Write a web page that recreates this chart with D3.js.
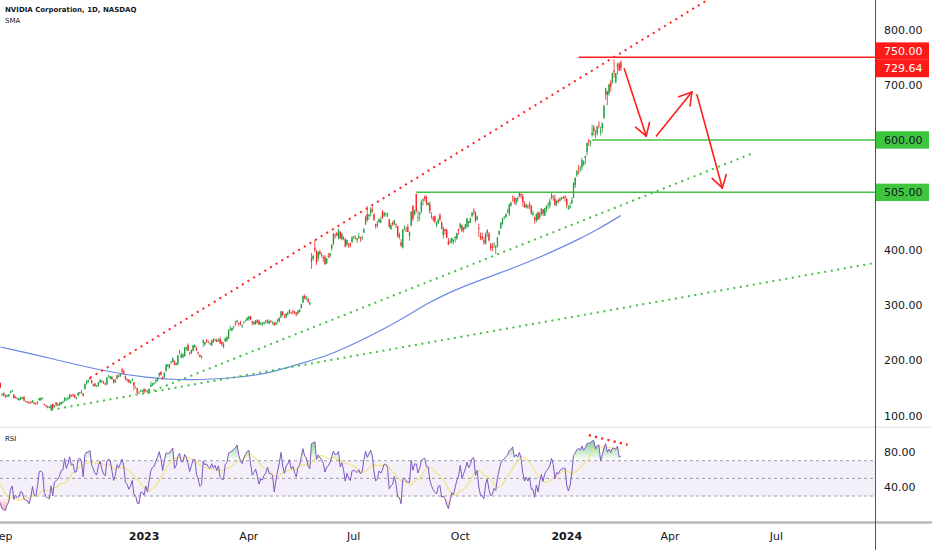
<!DOCTYPE html>
<html>
<head>
<meta charset="utf-8">
<script src="https://cdn.jsdelivr.net/npm/d3@7"></script>
<style>
  html, body { margin: 0; padding: 0; background: #fff; }
  svg { display: block; font-family: "DejaVu Sans", sans-serif; }
</style>
</head>
<body>
<svg id="chart" width="932" height="550"></svg>
<script>
// ---- data ----
const firstBarDate = '2022-07-18';
const calendarEnd = '2024-12-31';
const holidays = ['2022-09-05', '2022-11-24', '2022-12-26', '2023-01-02', '2023-01-16', '2023-02-20',
  '2023-04-07', '2023-05-29', '2023-06-19', '2023-07-04', '2023-09-04', '2023-11-23', '2023-12-25',
  '2024-01-01', '2024-01-15', '2024-02-19', '2024-03-29', '2024-05-27', '2024-06-19', '2024-07-04',
  '2024-09-02', '2024-11-28', '2024-12-25'];

// daily [open, high, low, close], one row per trading day from firstBarDate
const ohlc = [
  // 2022 Jul 18-29
  [164,167,159,160.6],[163,169,161,168.6],[169,178,168,177.2],[177,180,174,179.6],[178,179,172,173.2],
  [173,175,170,171.8],[170,171,164,165.2],[170,179,169,177.9],[178,181,174,179.3],[178,183,177,181.6],
  // Aug
  [179,188,178,184.4],[183,189,181,185.3],[187,191,186,189.6],[190,193,188,191.2],[187,191,186,190.3],
  [180,183,176,177.9],[176,177,170,171.0],[178,183,177,181.8],[184,187,179,179.5],[181,188,180,187.8],
  [186,191,185,190.2],[189,192,187,189.9],[187,188,182,183.5],[183,186,181,184.3],[181,182,176,177.2],
  [174,175,171,171.9],[172,174,170,172.4],[171,174,170,172.5],[174,180,173,179.1],[175,177,162,163.0],
  [160,163,158,159.6],[161,162,154,157.6],[159,160,150,150.9],
  // Sep
  [139,140,136,139.4],[141,142,135,136.5],[137,138,132,134.7],[135,138,133,137.1],[135,139,134,138.3],
  [141,145,140,143.9],[144,147,143,145.7],[138,139,131,131.7],[132,135,131,134.0],[132,133,129,130.6],
  [128,132,127,131.1],[129,134,128,133.4],[132,134,130,132.6],[134,135,126,127.0],[126,127,124,125.6],
  [125,126,122,125.2],[124,126,122,122.3],[125,126,121,124.1],[124,128,123,127.6],[124,125,120,122.2],
  [122,124,120,121.4],
  // Oct
  [123,126,120,124.9],[128,132,127,131.7],[128,133,127,132.0],[130,133,130,131.4],[121,122,119,120.8],
  [119,119,115,116.7],[115,118,113,115.9],[116,117,114,115.0],[111,120,108,119.6],[121,122,112,112.3],
  [116,119,115,118.9],[124,125,117,119.7],[118,123,117,120.5],[119,125,118,121.9],[121,125,119,124.7],
  [125,127,122,125.1],[126,133,126,132.6],[128,133,128,128.9],[130,134,128,131.8],[131,139,130,138.3],
  [137,138,134,135.0],
  // Nov
  [138,140,134,136.0],[137,139,132,132.6],[130,134,130,133.0],[137,142,135,141.6],[141,143,138,142.6],
  [143,147,140,141.6],[140,141,135,135.5],[148,158,147,157.5],[158,164,156,163.3],[161,166,160,163.2],
  [169,170,164,166.7],[164,165,158,159.1],[154,158,153,156.8],[158,159,152,154.1],[153,156,152,153.2],
  [154,161,153,160.4],[160,166,160,165.1],[163,164,160,161.0],[160,163,158,158.3],[158,160,155,157.3],
  [157,169,155,169.2],
  // Dec
  [172,174,169,172.2],[167,172,166,171.3],[170,172,165,166.6],[166,166,158,160.8],[160,166,159,164.3],
  [167,174,166,173.0],[172,175,170,171.3],[172,175,170,175.3],[184,187,175,180.0],[180,183,174,176.7],
  [172,173,164,166.2],[166,167,161,164.7],[165,166,159,160.6],[159,164,158,162.3],[164,167,162,165.3],
  [160,161,146,153.4],[152,153,149,152.1],[150,150,140,141.2],[141,144,140,140.4],[144,147,143,146.0],
  [144,146,143,146.1],
  // 2023 Jan
  [148,150,140,143.2],[146,148,142,147.5],[145,146,142,142.7],[144,149,141,148.6],[152,162,152,156.3],
  [155,159,154,159.1],[160,160,156,160.0],[162,166,158,165.1],[163,169,162,169.0],[173,178,170,177.0],
  [179,181,173,173.8],[170,171,165,167.7],[170,178,168,178.4],[181,193,180,192.7],[190,193,188,192.2],
  [186,194,185,193.2],[197,199,193,198.0],[197,206,197,203.7],[199,200,191,191.8],[192,196,191,195.4],
  // Feb
  [194,210,191,209.4],[218,219,211,217.0],[205,214,204,211.0],[206,213,204,211.0],[208,224,207,224.0],
  [222,225,218,222.0],[228,231,217,218.0],[214,216,210,212.6],[213,220,212,219.0],[218,228,216,227.5],
  [224,229,223,228.0],[222,225,217,218.0],[215,216,210,213.9],[210,211,206,206.6],[208,209,203,207.8],
  [232,238,224,236.6],[229,234,227,232.9],[237,239,232,234.4],[233,236,232,232.2],
  // Mar
  [231,233,228,231.1],[227,237,226,236.5],[238,240,232,233.8],[236,240,235,236.6],[237,240,233,233.7],
  [236,240,234,237.7],[239,243,230,230.7],[233,236,226,229.6],[225,233,222,229.6],[235,241,233,240.6],
  [236,244,234,242.3],[240,256,239,255.4],[256,263,254,257.3],[254,260,253,259.0],[261,263,257,262.0],
  [266,272,264,264.7],[270,274,267,271.9],[268,269,262,267.8],[269,272,264,265.3],[262,265,259,264.1],
  [269,271,267,269.8],[273,274,270,273.8],[273,278,272,277.8],
  // Apr
  [275,281,272,279.6],[280,281,273,274.5],[271,272,264,268.8],[266,271,264,270.4],[266,273,265,272.8],
  [273,275,267,269.5],[272,274,264,265.1],[267,270,264,267.6],[267,270,262,267.1],[267,270,265,269.3],
  [272,273,267,270.4],[268,275,267,273.1],[267,274,266,271.0],[272,273,268,271.0],[270,271,265,270.5],
  [268,270,263,264.0],[265,271,264,268.1],[274,275,267,272.3],[271,278,269,277.5],
  // May
  [278,290,277,289.1],[289,289,281,282.5],[279,284,277,278.2],[279,286,276,284.8],[283,289,282,286.8],
  [287,293,285,291.5],[288,288,284,286.7],[290,292,284,289.1],[289,290,284,286.0],[287,287,280,283.4],
  [285,292,283,289.9],[288,293,287,292.1],[295,303,294,301.8],[305,318,304,316.8],[317,320,311,312.6],
  [311,317,310,311.8],[311,314,305,306.9],[302,307,300,305.4],[385,395,366,379.8],[384,392,381,389.5],
  [405,419,396,401.1],[397,401,373,378.3],
  // Jun
  [385,398,380,397.7],[397,401,391,393.3],[391,396,387,391.7],[387,391,379,386.5],[388,391,373,374.8],
  [376,386,375,385.1],[390,395,386,387.7],[390,395,386,394.8],[403,410,399,410.2],[411,431,409,430.0],
  [427,431,421,426.5],[431,433,425,426.9],[421,439,420,436.9],[434,434,420,421.4],[420,432,418,430.3],
  [424,425,418,422.1],[420,422,405,406.3],[410,419,407,418.8],[412,413,404,411.2],[412,414,405,408.2],
  [415,426,413,423.0],
  // Jul
  [425,426,420,424.1],[422,427,420,423.0],[418,422,413,421.8],[422,431,421,425.0],[424,424,415,421.8],
  [424,427,418,424.0],[432,439,431,438.9],[447,463,446,459.8],[465,480,452,454.7],[462,465,455,464.6],
  [467,478,461,474.9],[474,479,468,470.8],[465,467,453,455.2],[448,448,439,443.1],[448,453,441,446.1],
  [451,457,449,456.8],[450,461,450,454.5],[470,473,456,459.0],[463,470,460,467.5],[466,468,461,467.3],
  // Aug
  [464,468,460,465.1],[456,457,440,442.7],[438,449,437,445.2],[450,452,444,446.8],[448,455,445,454.2],
  [447,449,440,446.6],[444,444,423,425.5],[428,432,420,423.9],[414,420,406,408.6],[405,438,403,437.5],
  [439,445,436,439.4],[435,443,434,434.9],[442,448,433,433.4],[425,434,417,433.0],[445,471,443,469.7],
  [481,481,453,456.7],[465,474,463,471.2],[502,503,468,471.6],[459,472,451,460.2],[465,469,454,468.4],
  [470,491,467,487.8],[490,494,481,492.6],[498,499,489,493.6],
  // Sep
  [497,499,481,485.1],[482,488,481,485.5],[484,488,466,470.6],[461,469,457,462.4],[459,462,452,455.7],
  [462,463,449,451.8],[445,452,442,448.7],[449,458,448,454.9],[464,467,452,455.8],[451,452,438,439.0],
  [427,443,421,439.7],[438,439,428,435.2],[437,439,422,422.4],[416,422,409,410.2],[415,421,411,416.1],
  [415,423,412,422.2],[417,420,411,419.1],[422,425,414,424.7],[421,432,419,430.9],[438,439,428,435.0],
  // Oct
  [441,450,438,447.8],[445,447,433,435.2],[437,442,432,440.4],[439,447,438,446.9],[443,459,440,457.6],
  [449,453,442,452.7],[450,459,450,458.0],[462,469,459,468.1],[472,476,464,469.5],[469,470,450,454.6],
  [456,463,453,461.0],[440,448,424,439.4],[425,432,418,422.0],[425,432,418,421.0],[418,424,410,413.9],
  [412,432,410,429.8],[431,438,424,436.6],[430,433,416,417.8],[410,413,399,403.3],[407,413,398,405.0],
  [410,415,404,411.6],[405,409,393,407.8],
  // Nov
  [408,424,405,423.3],[429,436,427,435.1],[440,451,438,450.1],[448,458,446,457.5],[458,462,456,459.6],
  [460,467,459,465.7],[468,475,468,469.5],[466,484,462,483.4],[481,488,479,486.2],[498,499,488,496.6],
  [494,497,483,488.9],[485,495,481,494.8],[495,496,488,493.0],[497,506,496,504.1],[502,503,494,499.4],
  [498,502,479,487.2],[484,489,477,477.8],[478,485,476,482.4],[480,483,475,478.2],[484,488,475,481.4],
  [481,482,464,467.7],
  // Dec
  [465,472,461,467.7],[460,460,448,455.1],[453,467,451,465.7],[469,470,455,455.0],[460,470,456,466.0],
  [465,477,463,475.1],[474,475,462,466.3],[463,477,462,476.6],[476,481,469,480.9],[483,487,474,483.5],
  [481,494,476,488.9],[495,505,492,500.8],[497,500,490,496.0],[494,501,481,481.1],[485,490,480,489.9],
  [491,494,485,488.3],[489,496,489,492.8],[495,497,491,494.2],[496,498,493,495.2],[498,499,488,495.2],
  // 2024 Jan
  [493,495,476,481.7],[475,482,473,475.7],[477,486,475,480.0],[485,496,484,491.0],[495,523,494,522.5],
  [518,532,513,531.4],[536,546,533,543.5],[550,555,538,548.2],[547,553,541,547.1],[550,568,545,563.8],
  [555,563,553,560.5],[567,571,556,571.1],[578,595,572,594.9],[599,602,589,596.5],[596,599,588,598.7],
  [609,628,606,613.6],[623,627,608,616.2],[609,618,603,610.3],[612,625,608,624.7],[628,634,621,627.7],
  [614,624,608,615.3],
  // Feb 1-16
  [622,632,612,630.3],[640,664,638,661.6],[682,695,673,693.3],[688,689,663,682.2],[684,702,680,701.0],
  [705,709,688,696.4],[705,722,702,721.3],[726,746,713,722.5],[705,721,702,721.3],[732,739,719,739.0],
  [738,741,725,726.6],[741,744,725,729.64]
];

// 200-day SMA as drawn (blue line)
const smaPoints = [
  ['2022-08-31', 224.5], ['2022-10-13', 204], ['2022-11-25', 181], ['2023-01-06', 168],
  ['2023-02-01', 165], ['2023-02-21', 165], ['2023-03-20', 168], ['2023-04-18', 175],
  ['2023-05-16', 194], ['2023-06-12', 210], ['2023-07-11', 237], ['2023-08-09', 270],
  ['2023-09-06', 307], ['2023-10-04', 335], ['2023-11-01', 357], ['2023-11-29', 379],
  ['2023-12-28', 406.5], ['2024-01-11', 420], ['2024-01-29', 437], ['2024-02-16', 463]
];

const priceTicks = [100, 200, 300, 400, 700, 800];
const rsiTicks = [40, 80];
const rsiBands = [70, 50, 30];
const rsiLength = 7;
const rsiMaLength = 14;
const timeTicks = [['2022-09', 'Sep'], ['2023-01', '2023'], ['2023-04', 'Apr'], ['2023-07', 'Jul'],
  ['2023-10', 'Oct'], ['2024-01', '2024'], ['2024-04', 'Apr'], ['2024-07', 'Jul']];

// horizontal levels drawn on the chart
const levels = [
  { from: '2024-01-11', price: 750, label: '750.00', kind: 'red' },
  { from: '2024-01-24', price: 600, label: '600.00', kind: 'green' },
  { from: '2023-08-24', price: 505, label: '505.00', kind: 'green' }
];
const lastPrice = 729.64;

// trend lines: two anchors [date, price]
const trendLines = [
  { a: ['2022-11-15', 168.3], b: ['2024-03-21', 801], extend: true, kind: 'red' },
  { a: ['2023-01-05', 141], b: ['2024-06-10', 576], extend: false, kind: 'green' },
  { a: ['2022-10-13', 110.3], b: ['2023-06-02', 197.3], extend: true, kind: 'green' }
];

// projected path arrows
const arrows = [
  [['2024-02-21', 729], ['2024-03-11', 607]],
  [['2024-03-19', 607], ['2024-04-18', 687]],
  [['2024-04-23', 682], ['2024-05-14', 513]]
];

// RSI divergence line
const rsiDivergence = [['2024-01-22', 99], ['2024-02-23', 88]];

// ---- layout ----
const W = 932, H = 550;
const plotRight = 875;
const paneSplit = 427.2, rsiBottom = 522.5;
const colors = {
  up: '#1f9d3c', down: '#ee2a2a', red: '#ff1f1f', green: '#45c045',
  sma: '#6b88e6', rsi: '#7e57c2', rsiMa: '#f3e27a', text: '#131722'
};

const svg = d3.select('#chart');
const fmt = d3.utcFormat('%Y-%m-%d');
const hol = new Set(holidays);
const calendar = d3.utcDays(new Date(firstBarDate), new Date(calendarEnd))
  .filter(d => d.getUTCDay() % 6 !== 0)
  .map(fmt)
  .filter(k => !hol.has(k));
const idxOf = new Map(calendar.map((k, i) => [k, i]));

const bars = ohlc.map((r, i) => ({ i: i, date: calendar[i], o: r[0], h: r[1], l: r[2], c: r[3] }));

// visible window: Jan 3 2023 sits 85.2 bars from the left edge, 432.3 bars of room to the axis
const anchor = idxOf.get('2023-01-03');
const x = d3.scaleLinear().domain([anchor - 85.2, anchor + 432.3]).range([0, plotRight]);
const y = d3.scaleLinear().domain([100, 800]).range([415.6, 29.7]);
const yR = d3.scaleLinear().domain([0, 108]).range([rsiBottom, paneSplit]);
const xd = d => x(idxOf.get(d));

const defs = svg.append('defs');
defs.append('clipPath').attr('id', 'clipPrice').append('rect')
  .attr('x', 0).attr('y', 0).attr('width', plotRight).attr('height', paneSplit);
defs.append('clipPath').attr('id', 'clipRsi').append('rect')
  .attr('x', 0).attr('y', paneSplit).attr('width', plotRight).attr('height', rsiBottom - paneSplit);

// ---- price pane ----
const gp = svg.append('g').attr('clip-path', 'url(#clipPrice)');

gp.append('path')
  .datum(smaPoints)
  .attr('fill', 'none')
  .attr('stroke', colors.sma)
  .attr('stroke-width', 1.2)
  .attr('d', d3.line().x(d => xd(d[0])).y(d => y(d[1])).curve(d3.curveBasis));

gp.selectAll('line.wick').data(bars).join('line')
  .attr('class', 'wick')
  .attr('x1', d => x(d.i)).attr('x2', d => x(d.i))
  .attr('y1', d => y(d.h)).attr('y2', d => y(d.l))
  .attr('stroke', d => d.c >= d.o ? colors.up : colors.down)
  .attr('stroke-width', 0.8);

gp.selectAll('rect.body').data(bars).join('rect')
  .attr('class', 'body')
  .attr('x', d => x(d.i) - 0.65).attr('width', 1.3)
  .attr('y', d => y(Math.max(d.o, d.c)))
  .attr('height', d => Math.max(0.8, Math.abs(y(d.o) - y(d.c))))
  .attr('fill', d => d.c >= d.o ? colors.up : colors.down);

// trend lines
trendLines.forEach(t => {
  const x1 = xd(t.a[0]), y1 = y(t.a[1]);
  let x2 = xd(t.b[0]), y2 = y(t.b[1]);
  if (t.extend) {
    const k = (y2 - y1) / (x2 - x1);
    y2 = y1 + k * (plotRight - x1);
    x2 = plotRight;
  }
  gp.append('line')
    .attr('x1', x1).attr('y1', y1).attr('x2', x2).attr('y2', y2)
    .attr('stroke', colors[t.kind])
    .attr('stroke-width', 2)
    .attr('stroke-dasharray', '2,4.6');
});

// horizontal levels
levels.forEach(l => {
  gp.append('line')
    .attr('x1', xd(l.from)).attr('x2', plotRight)
    .attr('y1', y(l.price)).attr('y2', y(l.price))
    .attr('stroke', colors[l.kind])
    .attr('stroke-width', 1.5);
});

// arrows with open heads
arrows.forEach(a => {
  const x1 = xd(a[0][0]), y1 = y(a[0][1]);
  const x2 = xd(a[1][0]), y2 = y(a[1][1]);
  const ang = Math.atan2(y2 - y1, x2 - x1);
  const len = 14, spread = 0.55;
  const g = gp.append('g').attr('stroke', colors.red).attr('stroke-width', 1.6)
    .attr('fill', 'none').attr('stroke-linecap', 'round');
  g.append('line').attr('x1', x1).attr('y1', y1).attr('x2', x2).attr('y2', y2);
  [ang + Math.PI - spread, ang + Math.PI + spread].forEach(t => {
    g.append('line').attr('x1', x2).attr('y1', y2)
      .attr('x2', x2 + len * Math.cos(t)).attr('y2', y2 + len * Math.sin(t));
  });
});

// ---- RSI pane ----
function rsiSeries(closes, n) {
  const out = closes.map(() => null);
  let ag = 0, al = 0;
  for (let i = 1; i < closes.length; i++) {
    const ch = closes[i] - closes[i - 1];
    const gain = Math.max(ch, 0), loss = Math.max(-ch, 0);
    if (i <= n) {
      ag += gain / n; al += loss / n;
      if (i === n) out[i] = 100 - 100 / (1 + ag / al);
    } else {
      ag = (ag * (n - 1) + gain) / n;
      al = (al * (n - 1) + loss) / n;
      out[i] = al === 0 ? 100 : 100 - 100 / (1 + ag / al);
    }
  }
  return out;
}
const rsiVals = rsiSeries(bars.map(b => b.c), rsiLength);
const rsi = bars.map((b, i) => ({ i: b.i, v: rsiVals[i] })).filter(d => d.v != null);
const rsiMa = rsi.map((d, k) => k < rsiMaLength - 1 ? null :
  { i: d.i, v: d3.mean(rsi.slice(k - rsiMaLength + 1, k + 1), e => e.v) }).filter(d => d);

const gr = svg.append('g').attr('clip-path', 'url(#clipRsi)');

gr.append('rect')
  .attr('x', 0).attr('width', plotRight)
  .attr('y', yR(70)).attr('height', yR(30) - yR(70))
  .attr('fill', 'rgba(126,87,194,0.09)');

gr.selectAll('line.band').data(rsiBands).join('line')
  .attr('class', 'band')
  .attr('x1', 0).attr('x2', plotRight)
  .attr('y1', d => yR(d)).attr('y2', d => yR(d))
  .attr('stroke', '#9a9ca4').attr('stroke-width', 1)
  .attr('stroke-dasharray', '3,3');

const gradUp = defs.append('linearGradient').attr('id', 'gradUp')
  .attr('gradientUnits', 'userSpaceOnUse').attr('x1', 0).attr('x2', 0)
  .attr('y1', yR(100)).attr('y2', yR(70));
gradUp.append('stop').attr('offset', 0).attr('stop-color', 'rgb(40,170,60)').attr('stop-opacity', 0.75);
gradUp.append('stop').attr('offset', 1).attr('stop-color', 'rgb(40,170,60)').attr('stop-opacity', 0);
const gradDn = defs.append('linearGradient').attr('id', 'gradDn')
  .attr('gradientUnits', 'userSpaceOnUse').attr('x1', 0).attr('x2', 0)
  .attr('y1', yR(30)).attr('y2', yR(0));
gradDn.append('stop').attr('offset', 0).attr('stop-color', 'rgb(235,50,80)').attr('stop-opacity', 0);
gradDn.append('stop').attr('offset', 1).attr('stop-color', 'rgb(235,50,80)').attr('stop-opacity', 0.75);

gr.append('path').datum(rsi)
  .attr('fill', 'url(#gradUp)')
  .attr('d', d3.area().x(d => x(d.i)).y0(yR(70)).y1(d => yR(Math.max(70, d.v))));
gr.append('path').datum(rsi)
  .attr('fill', 'url(#gradDn)')
  .attr('d', d3.area().x(d => x(d.i)).y0(yR(30)).y1(d => yR(Math.min(30, d.v))));

gr.append('path').datum(rsiMa)
  .attr('fill', 'none').attr('stroke', colors.rsiMa).attr('stroke-width', 1.1)
  .attr('d', d3.line().x(d => x(d.i)).y(d => yR(d.v)));
gr.append('path').datum(rsi)
  .attr('fill', 'none').attr('stroke', colors.rsi).attr('stroke-width', 1)
  .attr('d', d3.line().x(d => x(d.i)).y(d => yR(d.v)));

gr.append('line')
  .attr('x1', xd(rsiDivergence[0][0])).attr('y1', yR(rsiDivergence[0][1]))
  .attr('x2', xd(rsiDivergence[1][0])).attr('y2', yR(rsiDivergence[1][1]))
  .attr('stroke', colors.red).attr('stroke-width', 2.2).attr('stroke-dasharray', '2.2,4.2');

// ---- frame ----
svg.append('line').attr('x1', 0).attr('x2', W).attr('y1', paneSplit).attr('y2', paneSplit)
  .attr('stroke', '#e0e3eb').attr('stroke-width', 1);
svg.append('line').attr('x1', 0).attr('x2', W).attr('y1', rsiBottom).attr('y2', rsiBottom)
  .attr('stroke', '#b8b9bd').attr('stroke-width', 2.5);
svg.append('line').attr('x1', plotRight + 0.5).attr('x2', plotRight + 0.5).attr('y1', 0).attr('y2', H)
  .attr('stroke', '#50535e').attr('stroke-width', 1);

// ---- price axis ----
const axisX = plotRight + 9;
svg.append('g').selectAll('text').data(priceTicks).join('text')
  .attr('x', axisX).attr('y', d => y(d)).attr('dy', '0.36em')
  .attr('font-size', 11).attr('fill', colors.text)
  .text(d => d3.format('.2f')(d));

svg.append('g').selectAll('text').data(rsiTicks).join('text')
  .attr('x', axisX).attr('y', d => yR(d)).attr('dy', '0.36em')
  .attr('font-size', 11).attr('fill', colors.text)
  .text(d => d3.format('.2f')(d));

// price labels in boxes; current price box pushes the 750 box up
const boxH = 17.4, boxW = 53;
const priceBoxes = levels.map(l => ({ y: y(l.price), label: l.label, kind: l.kind }));
const lastBox = { y: y(lastPrice), label: d3.format('.2f')(lastPrice), kind: 'red' };
priceBoxes.forEach(b => {
  if (Math.abs(b.y - lastBox.y) < boxH) b.y = lastBox.y - boxH;
});
priceBoxes.push(lastBox);
const gb = svg.append('g').selectAll('g').data(priceBoxes).join('g')
  .attr('transform', d => `translate(${plotRight + 1},${d.y})`);
gb.append('rect')
  .attr('x', 0).attr('y', -boxH / 2).attr('width', boxW).attr('height', boxH)
  .attr('fill', d => d.kind === 'red' ? '#ff1a1a' : '#3fc63f');
gb.append('text')
  .attr('x', axisX - plotRight - 1).attr('dy', '0.36em')
  .attr('font-size', 11)
  .attr('fill', d => d.kind === 'red' ? '#fff' : colors.text)
  .text(d => d.label);

// ---- time axis ----
const tickData = timeTicks.map(t => ({ i: calendar.findIndex(k => k.startsWith(t[0])), label: t[1] }));
svg.append('g').selectAll('text').data(tickData).join('text')
  .attr('x', d => x(d.i)).attr('y', 540)
  .attr('text-anchor', 'middle')
  .attr('font-size', 11)
  .attr('font-weight', d => /^\d+$/.test(d.label) ? 'bold' : 'normal')
  .attr('fill', colors.text)
  .text(d => d.label);

// ---- legends ----
svg.append('text').attr('x', 5).attr('y', 12)
  .attr('font-size', 7).attr('font-weight', 'bold').attr('fill', colors.text)
  .text('NVIDIA Corporation, 1D, NASDAQ');
svg.append('text').attr('x', 5).attr('y', 23)
  .attr('font-size', 7).attr('fill', colors.text)
  .text('SMA');
svg.append('text').attr('x', 5).attr('y', 441)
  .attr('font-size', 7).attr('fill', colors.text)
  .text('RSI');
</script>
</body>
</html>
